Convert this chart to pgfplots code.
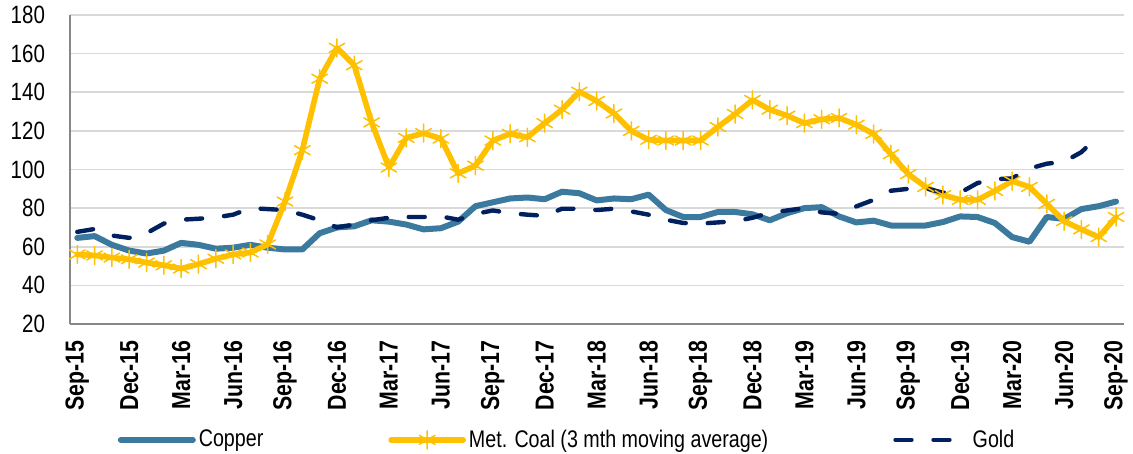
\documentclass[border=0pt]{standalone}
\usepackage{pgfplots}
\usepackage{pgfplotstable}
\pgfplotsset{compat=1.18}
\usepackage{fontspec}
\setmainfont{Liberation Sans}[FakeStretch=0.82]
\definecolor{coppercol}{RGB}{59,122,158}
\definecolor{coalcol}{RGB}{255,192,0}
\definecolor{goldcol}{RGB}{0,32,96}

\pgfplotstableread{
i copper coal
0 64.6 56
1 65.5 55.5
2 61 54.4
3 58 53.5
4 56.5 51.8
5 58 50.4
6 62 48.7
7 61 51
8 59 53.8
9 59.5 56
10 61 57
11 59.5 61.2
12 58.6 83.4
13 58.6 110
14 67 147
15 70 163
16 70.6 154
17 73.7 124.4
18 73 101
19 71.5 116.4
20 69 118.8
21 69.6 116
22 73 98
23 81 102
24 83 115
25 85 118.5
26 85.5 116.7
27 84.6 124
28 88.5 131
29 87.7 140.3
30 84 135.5
31 85 129
32 84.6 120
33 87 115.4
34 79 115
35 75.4 115
36 75.4 115
37 78 122
38 78 128.7
39 76.8 136
40 73.7 131
41 77.4 127.9
42 80 124
43 80.5 126
44 75.7 126.7
45 72.6 123.2
46 73.5 118.4
47 71 107.9
48 71 97.6
49 71 91
50 72.8 86.8
51 75.7 84.3
52 75.4 84.3
53 72.3 88.9
54 65 94
55 62.6 91
56 75.4 82.2
57 74.4 73.2
58 79.5 69
59 81 65
60 83.4 75.4
}\datatable

\pgfplotstableread{
i gold
0 67.7
1 69.2
2 65.8
3 64.6
4 67
5 72
6 74
7 74.5
8 75.2
9 76.6
10 80
11 79.5
12 79
13 76.6
14 73.7
15 70
16 71.5
17 73.7
18 75
19 75.4
20 75.4
21 75.7
22 74
23 77
24 78.8
25 77.4
26 76.6
27 76
28 79.7
29 79.7
30 79
31 79.7
32 78.3
33 76.6
34 74
35 72.3
36 72
37 72.6
38 73.2
39 75
40 77.6
41 78.8
42 80
43 77.8
44 77
45 80.9
46 84.3
47 89
48 90
49 90.3
50 88
51 88
52 93
53 95
54 95.4
55 100.5
56 103
57 104
58 109
59 117.6
}\goldtable

\begin{document}
\begin{tikzpicture}
\begin{axis}[
  scale only axis,
  width=527pt, height=154.5pt,
  xmin=-0.42, xmax=60.46,
  ymin=20, ymax=180,
  ytick={20,40,...,180},
  xtick={0,3,...,60},
  xticklabels={Sep-15,Dec-15,Mar-16,Jun-16,Sep-16,Dec-16,Mar-17,Jun-17,Sep-17,Dec-17,Mar-18,Jun-18,Sep-18,Dec-18,Mar-19,Jun-19,Sep-19,Dec-19,Mar-20,Jun-20,Sep-20},
  xticklabel style={rotate=90, anchor=east, inner xsep=8pt, font=\fontsize{13}{13}\selectfont\bfseries},
  yticklabel style={font=\fontsize{12.5}{12.5}\selectfont, xshift=-9pt},
  /pgf/number format/assume math mode=true,
  axis lines=left,
  axis line style={-, draw=black!47, line width=0.8pt},
  major tick length=0pt,
  ymajorgrids,
  grid style={draw=black!15, line width=0.8pt},
  legend columns=3,
  legend style={at={(0.045,-0.375)}, anchor=west, draw=none, fill=none,
    inner sep=0pt,
    font=\fontsize{12}{12}\selectfont,
    /tikz/every even column/.append style={column sep=61pt},
    nodes={inner sep=1.5pt}},
  legend image code/.code={\draw[#1,mark repeat=2,mark phase=2] plot coordinates {(0pt,0pt) (18pt,0pt) (36pt,0pt)};},
]
\addplot[coppercol, line width=3pt, line join=round, line cap=round] table[x=i,y=copper]{\datatable};
\addlegendentry{Copper}
\addplot[coalcol, line width=2.8pt, line join=round, line cap=round, mark=asterisk,
  mark options={solid, line width=0.75pt, mark size=4.5pt}] table[x=i,y=coal]{\datatable};
\addlegendentry{Met. Coal (3 mth moving average)}
\addplot[goldcol, line width=2.2pt, line cap=round, line join=round, dash pattern=on 8pt off 11pt] table[x=i,y=gold]{\goldtable};
\addlegendentry{Gold}
\end{axis}
\pgfresetboundingbox
\path[use as bounding box] (current axis.south west) ++(-35pt,-65pt) rectangle ([xshift=4.5pt,yshift=7.5pt]current axis.north east);
\end{tikzpicture}
\end{document}
